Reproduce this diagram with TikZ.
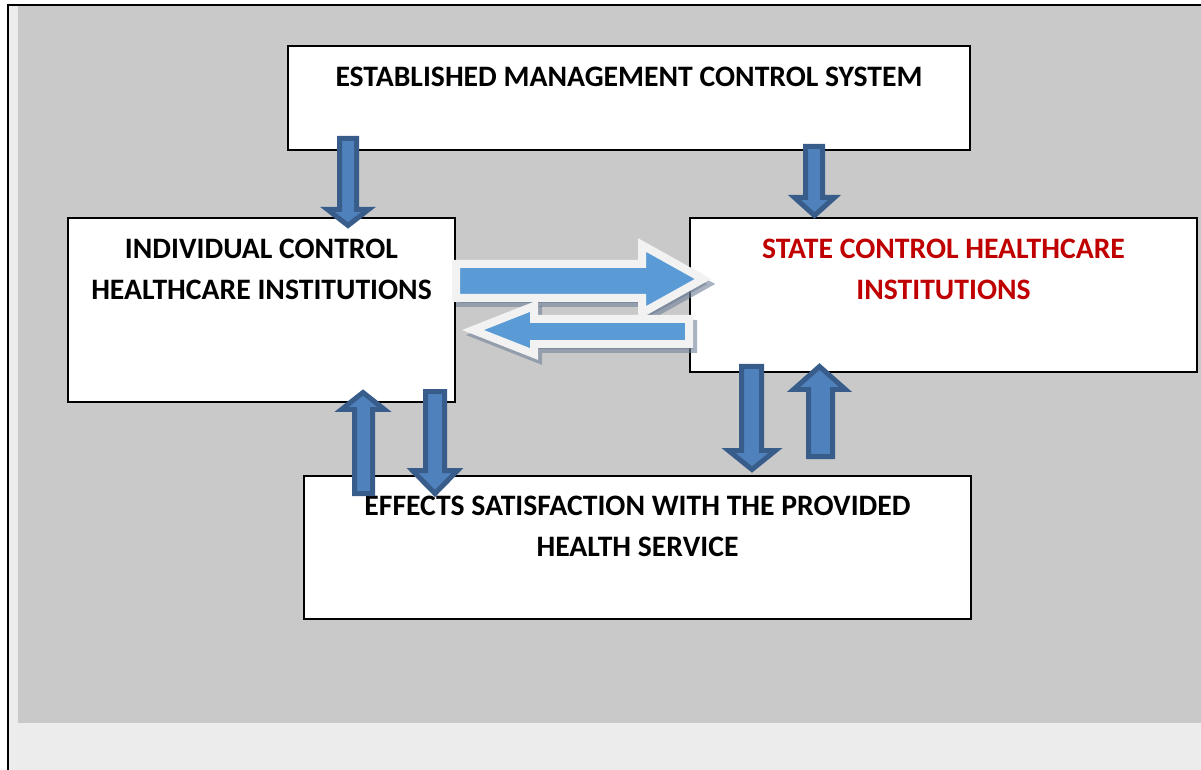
\documentclass[tikz,border=0pt]{standalone}
\usepackage{fontspec}
\setmainfont{Carlito}
\usepackage{tikz}
\usetikzlibrary{calc,positioning}

\definecolor{pagebg}{RGB}{236,236,236}
\definecolor{panelbg}{RGB}{201,201,201}
\definecolor{vfill}{RGB}{79,129,189}
\definecolor{vline}{RGB}{56,93,138}
\definecolor{hfill}{RGB}{91,155,213}
\definecolor{hline}{RGB}{242,242,242}
\definecolor{hshadow}{RGB}{112,128,152}
\definecolor{statered}{RGB}{192,0,0}

% vertical block arrow: style, xl, xr, ytail, ybase, hl, hr, ytip
\newcommand{\vblock}[8]{%
  \draw[#1] (#2,#4) -- (#3,#4) -- (#3,#5) -- (#7,#5) -- ({(#6+#7)/2},#8) -- (#6,#5) -- (#2,#5) -- cycle;}
% horizontal block arrow: style, yt, yb, xtail, xbase, ht, hb, xtip
\newcommand{\hblock}[8]{%
  \draw[#1] (#4,#2) -- (#5,#2) -- (#5,#6) -- (#8,{(#6+#7)/2}) -- (#5,#7) -- (#5,#3) -- (#4,#3) -- cycle;}

\begin{document}
\begin{tikzpicture}[
		x=0.02cm, y=-0.02cm,
		box/.style = {draw=black, fill=white, line width=0.04cm, inner sep=0pt},
		txt/.style = {anchor=north, inner sep=0pt, align=center, font=\fontsize{16.9}{23.2}\selectfont\bfseries},
		varr/.style = {fill=vfill, draw=vline, line width=0.1cm, miter limit=4},
		harr/.style = {fill=hfill, draw=hline, line width=0.16cm},
		hshad/.style = {fill=hshadow, draw=hshadow, line width=0.16cm, opacity=0.6, xshift=0.08cm, yshift=-0.1cm}
	]
	\useasboundingbox (0,0) rectangle (1201,770);
	\fill[pagebg] (8,5) rectangle (1201,770);
	\fill[panelbg] (18,6) rectangle (1201,723);
	\draw[line width=0.04cm] (8,770) -- (8,5) -- (1201,5);

	\node[box, minimum width=13.64cm, minimum height=2.08cm] (mcs)   at (629,98)      {};
	\node[box, minimum width=7.74cm,  minimum height=3.68cm] (indiv) at (261.5,310)   {};
	\node[box, minimum width=10.14cm, minimum height=3.08cm] (state) at (943.5,295)   {};
	\node[box, minimum width=13.34cm, minimum height=2.86cm] (eff)   at (637.5,547.5) {};

	\node[txt] (mcstxt)   at ([yshift=-0.44cm]mcs.north)   {ESTABLISHED MANAGEMENT CONTROL SYSTEM};
	\node[txt] (indivtxt) at ([yshift=-0.44cm]indiv.north) {INDIVIDUAL CONTROL\\HEALTHCARE INSTITUTIONS};
	\node[txt, text=statered] (statetxt) at ([yshift=-0.44cm]state.north) {STATE CONTROL HEALTHCARE\\INSTITUTIONS};
	\node[txt] (efftxt)   at ([yshift=-0.42cm]eff.north)   {EFFECTS SATISFACTION WITH THE PROVIDED\\HEALTH SERVICE};

	\vblock{varr}{339.5}{356.5}{138.5}{209.5}{327.5}{368.5}{225.5}
	\vblock{varr}{805.5}{822.5}{146.5}{197.5}{794.5}{834.5}{215.5}
	\vblock{varr}{354.5}{372.5}{493.5}{409.5}{341.5}{384.5}{392.5}
	\vblock{varr}{425.5}{444.5}{391.5}{470.5}{412.5}{457.5}{493.5}
	\vblock{varr}{741.5}{761.5}{366.5}{450.5}{728.5}{775.5}{469.5}
	\vblock{varr}{808.5}{832.5}{456.5}{389.5}{793.5}{845.5}{366.5}

	\hblock{hshad}{264}{298}{456}{642}{245}{313}{703}
	\hblock{harr}{264}{298}{456}{642}{245}{313}{703}
	\hblock{hshad}{319}{344}{689}{534}{306}{354}{473}
	\hblock{harr}{319}{344}{689}{534}{306}{354}{473}
\end{tikzpicture}
\end{document}
